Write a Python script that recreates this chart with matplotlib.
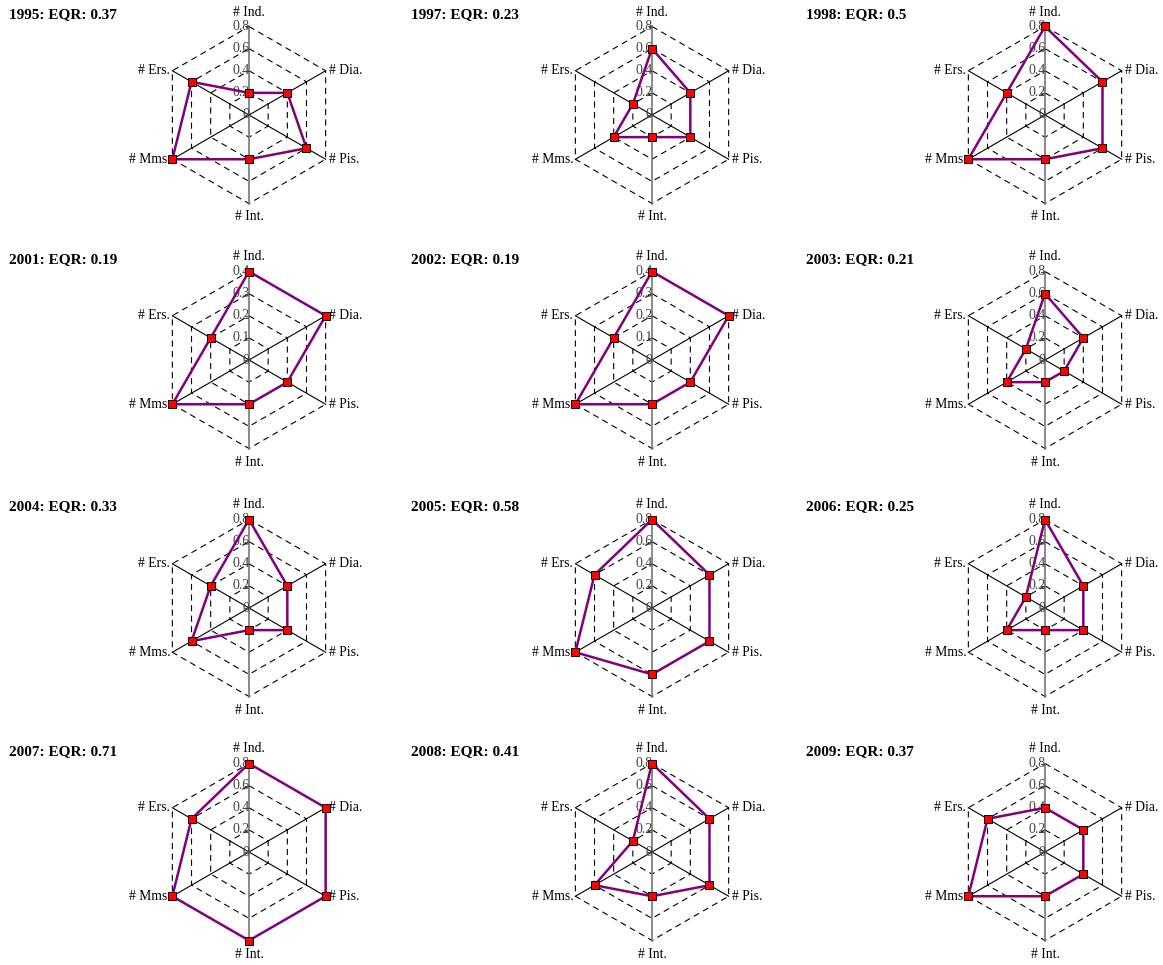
import numpy as np
import matplotlib
matplotlib.use('Agg')
import matplotlib.pyplot as plt

plt.rcParams['font.family'] = ['Liberation Serif', 'DejaVu Serif']

# axis order around the chart (clockwise from top)
axis_labels = ['# Ind.', '# Dia.', '# Pis.', '# Int.', '# Mms.', '# Ers.']
axis_angles = [90, 30, -30, -90, 210, 150]

years = [1995, 1997, 1998, 2001, 2002, 2003, 2004, 2005, 2006, 2007, 2008, 2009]
eqr = ['0.37', '0.23', '0.5', '0.19', '0.19', '0.21', '0.33', '0.58', '0.25', '0.71', '0.41', '0.37']

# values per year, in the order of axis_labels
values_1995 = [0.2, 0.4, 0.6, 0.4, 0.8, 0.6]
values_1997 = [0.6, 0.4, 0.4, 0.2, 0.4, 0.2]
values_1998 = [0.8, 0.6, 0.6, 0.4, 0.8, 0.4]
values_2001 = [0.4, 0.4, 0.2, 0.2, 0.4, 0.2]
values_2002 = [0.4, 0.4, 0.2, 0.2, 0.4, 0.2]
values_2003 = [0.6, 0.4, 0.2, 0.2, 0.4, 0.2]
values_2004 = [0.8, 0.4, 0.4, 0.2, 0.6, 0.4]
values_2005 = [0.8, 0.6, 0.6, 0.6, 0.8, 0.6]
values_2006 = [0.8, 0.4, 0.4, 0.2, 0.4, 0.2]
values_2007 = [0.8, 0.8, 0.8, 0.8, 0.8, 0.6]
values_2008 = [0.8, 0.6, 0.6, 0.4, 0.6, 0.2]
values_2009 = [0.4, 0.4, 0.4, 0.4, 0.8, 0.6]

all_values = [values_1995, values_1997, values_1998, values_2001, values_2002, values_2003,
              values_2004, values_2005, values_2006, values_2007, values_2008, values_2009]

# radial scale of each chart
scale_max = [0.8, 0.8, 0.8, 0.4, 0.4, 0.8, 0.8, 0.8, 0.8, 0.8, 0.8, 0.8]
tick_labels_08 = ['0', '0.2', '0.4', '0.6', '0.8']
tick_labels_04 = ['0', '0.1', '0.2', '0.3', '0.4']

W, H = 1163, 965
fig = plt.figure(figsize=(W / 100, H / 100), dpi=100)

R = 88.5          # pixels for the outer ring
S = 300           # axes box size in pixels
col_cx = [249, 652, 1045]
row_cy = [115, 360, 608, 852]
title_x = [9, 411, 806]
title_y = [8, 253, 500, 745]

ang = np.radians(axis_angles)
px = 1.0 / R  # one pixel in data units

for i, year in enumerate(years):
    row, col = divmod(i, 3)
    cx, cy = col_cx[col], row_cy[row]
    ax = fig.add_axes([(cx - S / 2) / W, (H - cy - S / 2) / H, S / W, S / H])
    lim = S / 2 / R
    ax.set_xlim(-lim, lim)
    ax.set_ylim(-lim, lim)
    ax.set_aspect('equal')
    ax.axis('off')

    # dashed hexagon rings
    for f in [0.25, 0.5, 0.75, 1.0]:
        hx = np.append(f * np.cos(ang), f * np.cos(ang[0]))
        hy = np.append(f * np.sin(ang), f * np.sin(ang[0]))
        ax.plot(hx, hy, color='black', lw=0.8, dashes=(5.5, 4), zorder=1)

    # spokes
    for a in ang:
        if abs(np.cos(a)) < 1e-6:
            ax.plot([0, np.cos(a)], [0, np.sin(a)], color='#777777', lw=1.2, zorder=2)
        else:
            ax.plot([0, np.cos(a)], [0, np.sin(a)], color='black', lw=0.8, zorder=2)

    # radial tick labels along the top axis
    labels = tick_labels_04 if scale_max[i] == 0.4 else tick_labels_08
    for k, t in enumerate(labels):
        r = k / 4
        ax.plot([-4 * px, 0], [r, r], color='#555555', lw=0.8, zorder=2)
        ax.text(0.5 * px, r, t, ha='right', va='center', fontsize=10, color='#444444', zorder=3)

    # axis labels
    for lab, a in zip(axis_labels, axis_angles):
        x, y = np.cos(np.radians(a)), np.sin(np.radians(a))
        if a == 90:
            ax.text(0, 1 + 8 * px, lab, ha='center', va='bottom', fontsize=9.8)
        elif a == -90:
            ax.text(0, -1 - 7 * px, lab, ha='center', va='top', fontsize=9.8)
        elif x > 0:
            ax.text(x + 3 * px, y, lab, ha='left', va='center', fontsize=9.8)
        else:
            ax.text(x - 2 * px, y, lab, ha='right', va='center', fontsize=9.8)

    # data polygon
    v = np.array(all_values[i]) / scale_max[i]
    xs = v * np.cos(ang)
    ys = v * np.sin(ang)
    ax.plot(np.append(xs, xs[0]), np.append(ys, ys[0]), color='#800080', lw=1.8, zorder=4)
    ax.plot(xs, ys, linestyle='none', marker='s', markersize=5.5, markerfacecolor='red',
            markeredgecolor='black', markeredgewidth=0.7, zorder=5)

    fig.text(title_x[col] / W, 1 - title_y[row] / H, f'{year}: EQR: {eqr[i]}',
             ha='left', va='top', fontsize=11, fontweight='bold')

fig.savefig('out.png', dpi=100)
